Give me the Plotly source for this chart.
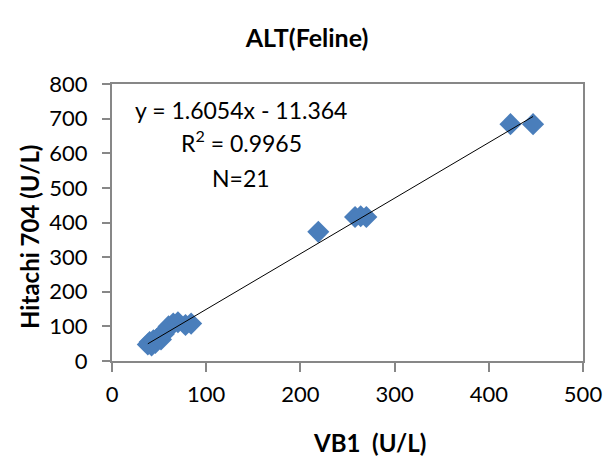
import plotly.graph_objects as go

# ALT results for feline samples: VB1 analyser (x) vs Hitachi 704 (y), U/L
vb1 = [38, 40, 42, 44, 46, 48, 50, 52, 55, 58, 60, 65, 70, 78, 84,
       219, 258, 264, 270, 423, 447]
hitachi = [48, 55, 45, 60, 52, 65, 70, 62, 78, 90, 100, 108, 112, 104, 108,
           373, 416, 418, 416, 684, 684]

# Linear trendline reported on the chart
slope = 1.6054
intercept = -11.364
r_squared = 0.9965

x_ticks = [0, 100, 200, 300, 400, 500]
y_ticks = [0, 100, 200, 300, 400, 500, 600, 700, 800]

FONT = "Lato"
AXIS_GREY = "#878787"

fit_x = [min(vb1), max(vb1)]
fit_y = [slope * v + intercept for v in fit_x]

fig = go.Figure()
fig.add_trace(go.Scatter(
    x=vb1, y=hitachi, mode="markers",
    marker=dict(symbol="diamond", size=17, color="#4a7ebb", line=dict(width=0)),
    hoverinfo="x+y", showlegend=False,
))
fig.add_trace(go.Scatter(
    x=fit_x, y=fit_y, mode="lines",
    line=dict(color="black", width=1),
    hoverinfo="skip", showlegend=False,
))

fig.update_layout(
    width=614, height=457,
    margin=dict(l=112, r=20, t=84, b=96),
    paper_bgcolor="white", plot_bgcolor="white",
    font=dict(family=FONT, size=22, color="black"),
    title=dict(text="<b>ALT(Feline)</b>", x=0.5, xref="container", xanchor="center",
               y=1 - 38 / 457, yanchor="middle", font=dict(size=25)),
    xaxis=dict(range=[0, 500], tickvals=x_ticks, showgrid=False, zeroline=False,
               showline=True, linecolor=AXIS_GREY, linewidth=2, mirror=True,
               ticks="outside", ticklen=9, tickwidth=2, tickcolor=AXIS_GREY,
               ticklabelstandoff=4, tickfont=dict(size=22)),
    yaxis=dict(range=[0, 800], tickvals=y_ticks, showgrid=False, zeroline=False,
               showline=True, linecolor=AXIS_GREY, linewidth=2, mirror=True,
               ticks="outside", ticklen=8, tickwidth=2, tickcolor=AXIS_GREY,
               ticklabelstandoff=10, tickfont=dict(size=22)),
)

# Axis titles
fig.add_annotation(text="<b>VB1  (U/L)</b>", xref="paper", yref="paper",
                   x=0.546, y=-0.296, showarrow=False, font=dict(size=24),
                   xanchor="center", yanchor="middle")
fig.add_annotation(text="<b>Hitachi 704 (U/L)</b>", xref="paper", yref="paper",
                   x=-0.174, y=0.448, showarrow=False, font=dict(size=24),
                   textangle=-90, xanchor="center", yanchor="middle")

# Regression statistics
fig.add_annotation(text=f"y = {slope}x - {abs(intercept)}", xref="x", yref="y",
                   x=137, y=725, showarrow=False, font=dict(size=23))
fig.add_annotation(text=f"R<sup>2</sup> = {r_squared}", xref="x", yref="y",
                   x=137, y=633, showarrow=False, font=dict(size=23))
fig.add_annotation(text=f"N={len(vb1)}", xref="x", yref="y",
                   x=137, y=529, showarrow=False, font=dict(size=23))

fig.write_html("out.html")
